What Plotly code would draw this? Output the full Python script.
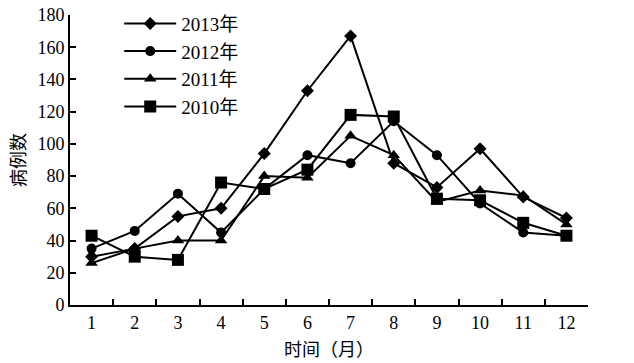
import plotly.graph_objects as go

months = [str(m) for m in range(1, 13)]
y2013 = [30, 35, 55, 60, 94, 133, 167, 88, 73, 97, 67, 54]
y2012 = [35, 46, 69, 45, 72, 93, 88, 114, 93, 63, 45, 43]
y2011 = [26, 35, 40, 40, 80, 79, 105, 93, 64, 71, 68, 50]
y2010 = [43, 30, 28, 76, 72, 84, 118, 117, 66, 65, 51, 43]

series = [
    ("2013年", y2013, "diamond", 10),
    ("2012年", y2012, "circle", 10),
    ("2011年", y2011, "triangle-up", 11),
    ("2010年", y2010, "square", 12),
]

FONT = '"Liberation Serif", "Times New Roman", "Noto Sans CJK SC", serif'

fig = go.Figure()
for name, vals, sym, sz in series:
    fig.add_trace(go.Scatter(
        x=months, y=vals, name=name, mode="lines+markers",
        line=dict(color="black", width=2),
        marker=dict(symbol=sym, size=sz, color="black"),
    ))

fig.update_layout(
    width=634, height=363,
    margin=dict(l=70, r=46, t=15, b=58, autoexpand=False),
    plot_bgcolor="white", paper_bgcolor="white",
    font=dict(family=FONT, size=18, color="black"),
    showlegend=True,
    legend=dict(x=0.095, y=1.036, xanchor="left", yanchor="top",
                bgcolor="rgba(0,0,0,0)", font=dict(size=19, family=FONT),
                tracegroupgap=0, itemwidth=52),
    xaxis=dict(
        type="category", range=[-0.5, 11.5], automargin=False,
        showline=True, linecolor="black", linewidth=2,
        ticks="inside", tickson="boundaries", ticklen=6, tickcolor="black", tickwidth=2,
        showgrid=False, zeroline=False,
        title=dict(text="时间（月）", font=dict(size=18, family=FONT), standoff=12),
        tickfont=dict(size=18, family=FONT),
    ),
    yaxis=dict(
        range=[0, 180], dtick=20, automargin=False,
        showline=True, linecolor="black", linewidth=2,
        ticks="inside", ticklen=6, tickcolor="black", tickwidth=2,
        showgrid=False, zeroline=False,
        title=dict(text="病例数", font=dict(size=18, family=FONT), standoff=7),
        tickfont=dict(size=18, family=FONT),
    ),
)

fig.write_html("out.html", config={"displayModeBar": False},
               post_script="document.body.style.margin='0';")
